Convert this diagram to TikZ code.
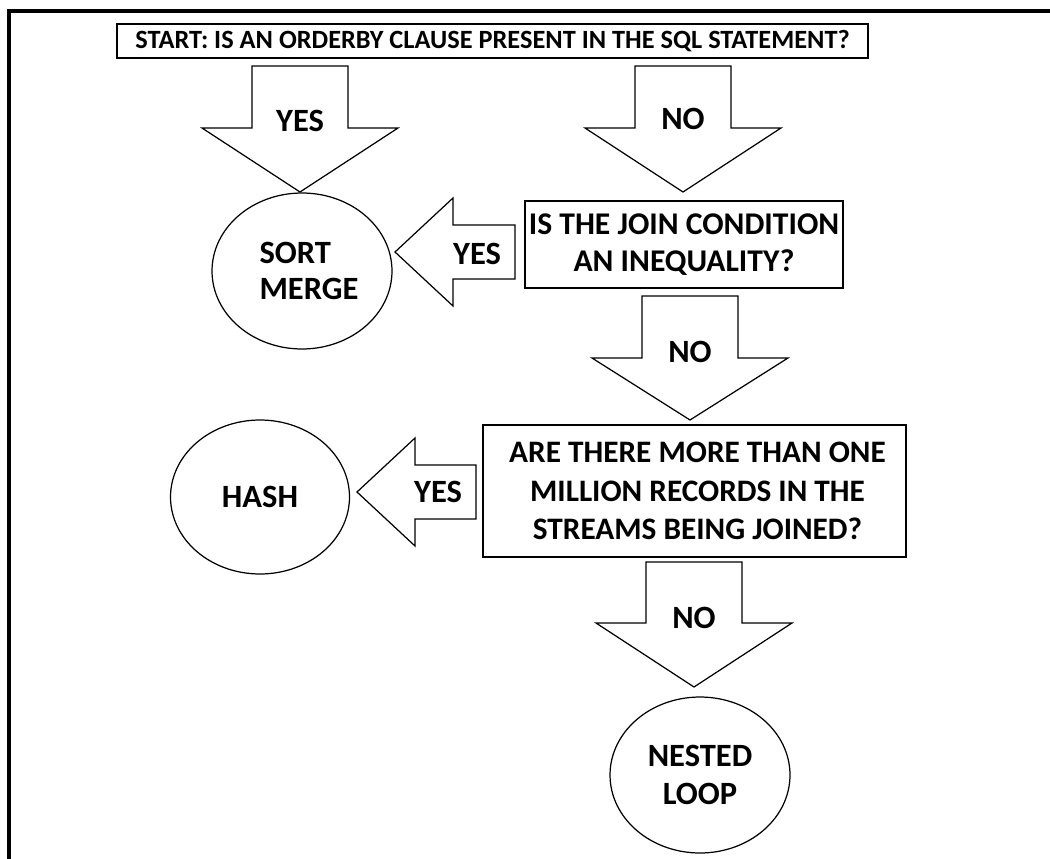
\documentclass[tikz,border=0pt]{standalone}
\usepackage{fontspec}
\setmainfont{Carlito}
\usetikzlibrary{shapes.geometric}

% block arrows, coordinates in pixels (y grows downwards)
\newcommand{\downblock}[4]{% centre x, top y, barb y, tip y
  \draw[blk] (#1-48,#2) -- (#1+48,#2) -- (#1+48,#3) -- (#1+98,#3) -- (#1,#4)
    -- (#1-98,#3) -- (#1-48,#3) -- cycle;
}
\newcommand{\leftblock}[4]{% tip x, centre y, barb x, tail x
  \draw[blk] (#1,#2) -- (#3,#2-54) -- (#3,#2-27) -- (#4,#2-27) -- (#4,#2+27)
    -- (#3,#2+27) -- (#3,#2+54) -- cycle;
}

\begin{document}
\begin{tikzpicture}[
  x=0.02cm, y=-0.02cm,
  font=\bfseries\fontsize{18.5}{21}\selectfont,
  qbox/.style={rectangle,draw=black,line width=0.7pt,align=center,inner sep=0pt},
  oval/.style={ellipse,draw=black,line width=0.7pt,align=center,inner sep=0pt,
    minimum width=3.6cm,minimum height=3.12cm},
  blk/.style={draw=black,line width=0.7pt,line join=miter},
  lbl/.style={inner sep=0pt},
  frame/.style={line width=1.8pt,line cap=rect}
]
\useasboundingbox (0,0) rectangle (1050,858);
% outer frame (top and left only)
\draw[frame] (9,858) -- (9,11) -- (1050,11);
% questions
\node[qbox,minimum width=15.02cm,minimum height=0.68cm,
  font=\bfseries\fontsize{15}{18}\selectfont] (start) at (492.5,41)
  {START: IS AN ORDERBY CLAUSE PRESENT IN THE SQL STATEMENT?};
\node[qbox,minimum width=6.36cm,minimum height=1.74cm,
  font=\bfseries\fontsize{18}{21}\selectfont] (ineq) at (684,244.5)
  {IS THE JOIN CONDITION\\AN INEQUALITY?};
\node[qbox,minimum width=8.46cm,minimum height=2.64cm,
  font=\bfseries\fontsize{17.8}{22}\selectfont] (million) at (694.5,491)
  {\hspace*{0.12cm}ARE THERE MORE THAN ONE\\\hspace*{0.12cm}MILLION RECORDS IN THE\\
   \hspace*{0.12cm}STREAMS BEING JOINED?};
% outcomes
\node[oval,align=left] (sortmerge) at (302,271)
  {\hspace*{0.28cm}SORT\\\hspace*{0.28cm}MERGE};
\node[oval,minimum width=3.58cm,minimum height=3.08cm] (hash) at (260,497) {HASH};
\node[oval,font=\bfseries\fontsize{18.5}{22}\selectfont] (nested) at (700,775)
  {NESTED\\LOOP};
% block arrows
\downblock{300}{66}{128}{192}
\downblock{683}{66}{128}{192}
\downblock{690}{296}{358}{420}
\downblock{694}{562}{623}{687}
\leftblock{395}{252}{453}{515}
\leftblock{357}{492}{415}{476}
% arrow labels
\node[lbl] (yes1) at (300,121) {YES};
\node[lbl] (no1) at (683,119) {NO};
\node[lbl] (no2) at (690,352) {NO};
\node[lbl] (no3) at (694,618) {NO};
\node[lbl] (yes2) at (477,254) {YES};
\node[lbl] (yes3) at (438,492) {YES};
\end{tikzpicture}
\end{document}
